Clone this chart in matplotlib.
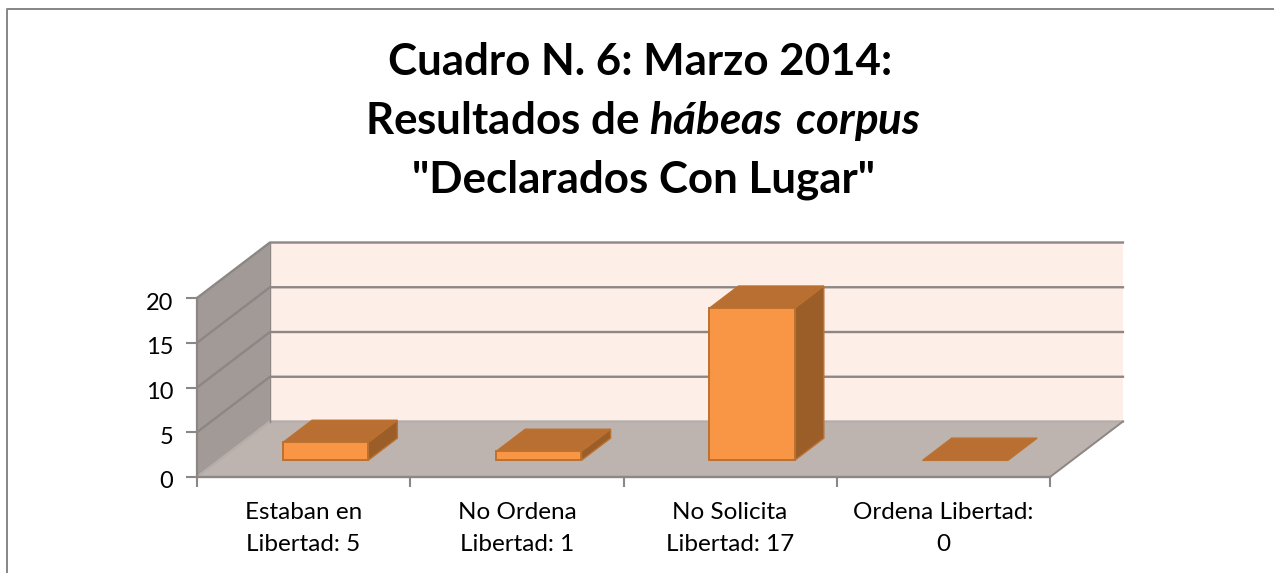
import matplotlib
matplotlib.use('Agg')
from matplotlib import pyplot as plt
from matplotlib.lines import Line2D
from matplotlib.patches import Polygon
from matplotlib.transforms import ScaledTranslation

plt.rcParams['font.family'] = ['Lato', 'DejaVu Sans']
plt.rcParams['mathtext.fontset'] = 'custom'
plt.rcParams['mathtext.bfit'] = 'Lato:italic:bold'
plt.rcParams['mathtext.rm'] = 'Lato'

# data
categories = ['Estaban en\nLibertad: 5', 'No Ordena\nLibertad: 1', 'No Solicita\nLibertad: 17', 'Ordena Libertad:\n0']
values = [2, 1, 17, 0]   # heights as drawn, the first bar is lower than its label says
y_ticks = [0, 5, 10, 15, 20]
title_lines = ['Cuadro N. 6: Marzo 2014:', r'Resultados de $\mathbfit{hábeas\ corpus}$', '"Declarados Con Lugar"']

W, H = 1274, 573
DX, DY = 0.342, 6.2   # oblique shift of the back wall, in data units
BAR_W = 0.4
BAR_D0, BAR_D1 = 0.30, 0.70

GREY = '#8c8784'
WALL = '#fdeee7'
SIDE = '#a29a96'
FLOOR = '#bdb3af'
FRONT = '#f99646'
TOP = '#b96f31'
RIGHT = '#9c5e29'
EDGE = '#bc7130'

fig = plt.figure(figsize=(W / 100, H / 100), dpi=100, facecolor='white')
# frame of the page: only left and top edges are inside the picture
fig.add_artist(Line2D([7 / W, 7 / W, 1], [0, 1 - 9 / H, 1 - 9 / H], transform=fig.transFigure,
                      color='#868686', linewidth=1.4))

ax = fig.add_axes([197 / W, (H - 477) / H, 853 / W, 179 / H])
ax.set_xlim(0, 4)
ax.set_ylim(0, 20)
ax.patch.set_visible(False)
for s in ['top', 'right', 'left', 'bottom']:
    ax.spines[s].set_visible(False)


def p(x, y, d):
    return (x + d * DX, y + d * DY)


def poly(pts, fc, ec='none', lw=0, z=1):
    ax.add_patch(Polygon(pts, closed=True, facecolor=fc, edgecolor=ec, linewidth=lw, zorder=z, clip_on=False))


n = len(categories)
top = y_ticks[-1]

# walls and floor
poly([p(0, 0, 1), p(n, 0, 1), p(n, top, 1), p(0, top, 1)], WALL)
poly([p(0, 0, 0), p(0, 0, 1), p(0, top, 1), p(0, top, 0)], SIDE)
poly([p(0, 0, 0), p(n, 0, 0), p(n, 0, 1), p(0, 0, 1)], FLOOR)

for v in y_ticks:
    a, b, c = p(0, v, 0), p(0, v, 1), p(n, v, 1)
    col = GREY if v > 0 else '#b5aeaa'
    ax.plot([a[0], b[0], c[0]], [a[1], b[1], c[1]], color=col, lw=1.7, zorder=2, clip_on=False)
a, b = p(n, 0, 0), p(n, 0, 1)
ax.plot([a[0], b[0]], [a[1], b[1]], color=GREY, lw=1.4, zorder=2, clip_on=False)
a = p(0, top, 1)
ax.plot([a[0], a[0]], [DY, a[1]], color=GREY, lw=1.0, zorder=2, clip_on=False)
ax.plot([0, 0], [0, top], color=GREY, lw=1.6, zorder=2, clip_on=False)
ax.plot([0, n], [0, 0], color=GREY, lw=1.7, zorder=2, clip_on=False)

# bars
for i, v in enumerate(values):
    x0, x1 = i + 0.5 - BAR_W / 2, i + 0.5 + BAR_W / 2
    poly([p(x0, v, BAR_D0), p(x1, v, BAR_D0), p(x1, v, BAR_D1), p(x0, v, BAR_D1)], TOP, EDGE, 1.0, 4)
    if v > 0:
        poly([p(x1, 0, BAR_D0), p(x1, 0, BAR_D1), p(x1, v, BAR_D1), p(x1, v, BAR_D0)], RIGHT, EDGE, 1.0, 4)
        poly([p(x0, 0, BAR_D0), p(x1, 0, BAR_D0), p(x1, v, BAR_D0), p(x0, v, BAR_D0)], FRONT, EDGE, 1.4, 5)

# axes ticks and labels
ax.set_yticks(y_ticks)
ax.set_xticks(range(n + 1))
ax.set_xticklabels([])
ax.set_xticks([i + 0.5 for i in range(n)], minor=True)
ax.set_xticklabels(categories, minor=True, fontsize=17.5, color='black', linespacing=1.66)
ax.tick_params(axis='x', which='minor', length=0, pad=18)
ax.tick_params(axis='x', which='major', length=7, width=1.5, color=GREY)
ax.tick_params(axis='y', length=8, width=1.5, color=GREY, labelsize=17, pad=9, labelcolor='black')
# y labels sit a little below their ticks
for lab in ax.get_yticklabels():
    lab.set_transform(lab.get_transform() + ScaledTranslation(0, -3 / 100, fig.dpi_scale_trans))

# title
for x, y, line in zip([640.5, 642.5, 644], [62, 121, 180], title_lines):
    fig.text(x / W, 1 - y / H, line, ha='center', va='center', fontsize=31.6, fontweight='bold', color='black')

fig.savefig('out.png', dpi=100)
